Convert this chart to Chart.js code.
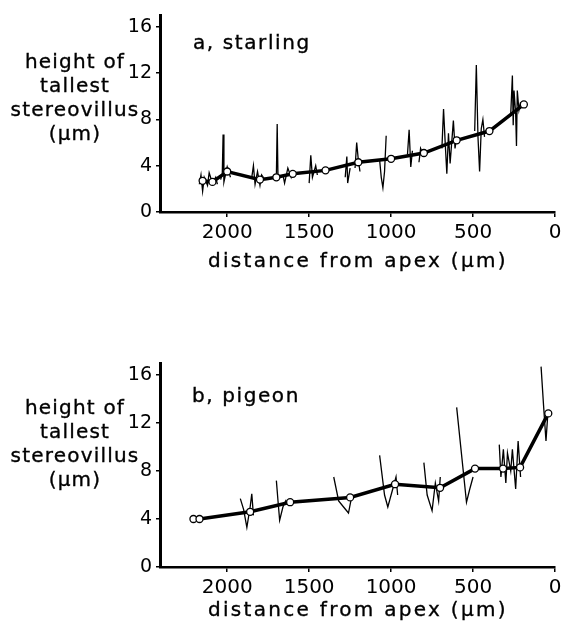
<!DOCTYPE html>
<html>
<head>
<meta charset="utf-8">
<script src="https://cdn.jsdelivr.net/npm/chart.js@4/dist/chart.umd.min.js"></script>
<style>
  html, body { margin: 0; padding: 0; background: #fff; }
  body { width: 563px; height: 628px; position: relative; overflow: hidden; }
  .box { position: absolute; left: 0; width: 563px; }
  .txt { position: absolute; font-family: "DejaVu Sans", sans-serif; font-size: 20px;
         line-height: 24px; color: #000; letter-spacing: 1.6px; white-space: nowrap;
         -webkit-text-stroke: 0.35px #000; }
  .ytitle { text-align: center; width: 150px; left: 0; letter-spacing: 1.2px; }
  .xtitle { letter-spacing: 2.3px; left: 208px; }
</style>
</head>
<body>
<div class="box" style="top:0; height:270px;"><canvas id="starling"></canvas></div>
<div class="box" style="top:328px; height:300px;"><canvas id="pigeon"></canvas></div>

<div class="txt ytitle" style="top:49px;">height of<br>tallest<br>stereovillus<br>(μm)</div>
<div class="txt" style="top:30px; left:193px;">a, starling</div>
<div class="txt xtitle" style="top:248px;">distance from apex (μm)</div>

<div class="txt ytitle" style="top:395px;">height of<br>tallest<br>stereovillus<br>(μm)</div>
<div class="txt" style="top:383px; left:192px;">b, pigeon</div>
<div class="txt xtitle" style="top:597px;">distance from apex (μm)</div>

<script>
// starling: mean height per position (open circles)
const starlingDist = [2150, 2090, 2000, 1800, 1700, 1600, 1400, 1200, 1000, 800, 600, 400, 190];
const starlingHeight = [2.7, 2.6, 3.5, 2.8, 3.0, 3.3, 3.6, 4.3, 4.6, 5.1, 6.2, 7.0, 9.3];
// starling: individual traces (null = gap)
const starlingTraceDist = [
  2170, 2160, 2150, 2140, 2120, 2110, 2090, 2070, 2060, 2050,
  2040, 2030, 2025, 2020, 2000, 1980, 1970,
  1850, 1840, 1830, 1815, 1800, 1790, 1770, 1760,
  1700, 1695, 1690, 1685,
  1660, 1650, 1630, 1610, 1600, 1590,
  1500, 1490, 1480, 1460, 1450, 1440,
  1280, 1270, 1265, 1250, 1240,
  1220, 1210, 1200, 1190, 1180,
  1070, 1060, 1050, 1040, 1030, 1020,
  900, 890, 880, 870, 860,
  830, 820, 800, 790,
  690, 680, 670, 660, 650, 640, 620, 610, 600, 590,
  490, 480, 470, 460, 450, 440, 430, 420,
  270, 260, 255, 250, 240, 235, 230, 220, 210
];
const starlingTraceHeight = [
  2.4, 3.2, 1.8, 3.0, 2.3, 3.4, 2.5, 3.0, 2.4, null,
  2.8, 3.3, 6.7, 2.6, 3.9, 3.0, null,
  3.0, 4.0, 2.4, 3.5, 2.3, 3.2, 2.8, null,
  3.0, 7.6, 2.9, null,
  3.2, 2.5, 3.8, 3.0, 3.6, null,
  2.5, 4.9, 3.0, 4.0, 3.2, null,
  3.0, 4.8, 2.5, 3.8, null,
  3.8, 6.0, 4.5, 3.5, null,
  4.5, 3.0, 2.1, 3.5, 6.6, null,
  5.0, 7.1, 3.9, 5.3, null,
  4.3, 5.5, 4.8, null,
  5.5, 8.9, 6.0, 3.3, 6.8, 4.2, 7.9, 5.5, 6.5, null,
  7.0, 12.7, 6.5, 3.5, 7.2, 8.0, 6.5, null,
  8.5, 11.8, 7.5, 10.5, 8.5, 5.7, 10.5, 8.8, 9.5
];

// pigeon: mean height per position (open circles)
const pigeonDist = [2206, 2169, 1860, 1616, 1250, 976, 701, 488, 317, 213, 41];
const pigeonHeight = [4.0, 4.0, 4.6, 5.4, 5.8, 6.9, 6.6, 8.2, 8.2, 8.3, 12.8];
// pigeon: individual traces (null = gap)
const pigeonTraceDist = [
  1920, 1900, 1880, 1860, 1850, 1840, 1830,
  1700, 1690, 1680, 1660, 1640, 1630,
  1350, 1320, 1290, 1260, 1240, 1230,
  1070, 1040, 1020, 990, 970, 960, 950,
  800, 780, 750, 730, 710, 700, 690,
  600, 540, 520, 500, 490,
  340, 330, 315, 300, 290, 270, 260, 240, 225, 210, 200,
  85, 70, 55, 45
];
const pigeonTraceHeight = [
  5.7, 4.8, 3.3, 5.0, 6.1, 4.3, null,
  7.2, 5.5, 3.9, 5.0, 5.6, null,
  7.5, 5.5, 5.0, 4.5, 5.9, null,
  9.3, 6.0, 5.0, 6.5, 7.5, 6.0, null,
  8.7, 6.0, 4.7, 7.0, 5.5, 7.5, null,
  13.3, 5.4, 6.5, 7.5, null,
  10.2, 7.5, 9.8, 7.0, 9.5, 8.0, 9.8, 6.5, 10.5, 7.5, null,
  16.7, 13.5, 10.5, 12.5
];

const yTicks = [0, 4, 8, 12, 16];
const xTicks = [0, 500, 1000, 1500, 2000];

function pts(xs, ys) {
  return xs.map((x, i) => ({ x: x, y: ys[i] }));
}

function makeChart(id, dist, height, tDist, tHeight, padTop, xAxisHeight) {
  const ctx = document.getElementById(id);
  return new Chart(ctx, {
    type: 'line',
    data: {
      datasets: [
        {
          data: pts(dist, height),
          borderColor: '#000',
          borderWidth: 3.5,
          pointRadius: 3.5,
          pointBorderWidth: 1.3,
          pointBackgroundColor: '#fff',
          pointBorderColor: '#000',
          tension: 0
        },
        {
          data: pts(tDist, tHeight),
          borderColor: '#000',
          borderWidth: 1.3,
          pointRadius: 0,
          tension: 0,
          spanGaps: false
        }
      ]
    },
    options: {
      responsive: true,
      maintainAspectRatio: false,
      animation: false,
      layout: { padding: { top: padTop, right: 8, left: 0, bottom: 0 } },
      plugins: { legend: { display: false }, tooltip: { enabled: false } },
      scales: {
        x: {
          type: 'linear',
          reverse: true,
          min: 0,
          max: 2410,
          afterBuildTicks: s => { s.ticks = xTicks.map(v => ({ value: v })); },
          afterFit: s => { s.height = xAxisHeight; },
          ticks: {
            color: '#000',
            font: { family: 'DejaVu Sans', size: 20 },
            padding: 4,
            maxRotation: 0,
            callback: v => String(v)
          },
          grid: { drawOnChartArea: false, color: '#000', lineWidth: 1.5, tickLength: 5 },
          border: { color: '#000', width: 2.5 }
        },
        y: {
          min: 0,
          max: 17,
          afterBuildTicks: s => { s.ticks = yTicks.map(v => ({ value: v })); },
          afterFit: s => { s.width = 160; },
          ticks: {
            color: '#000',
            font: { family: 'DejaVu Sans', size: 19 },
            padding: 4,
            callback: v => String(v)
          },
          grid: { drawOnChartArea: false, color: '#000', lineWidth: 1.5, tickLength: 4 },
          border: { color: '#000', width: 3 }
        }
      }
    }
  });
}

makeChart('starling', starlingDist, starlingHeight, starlingTraceDist, starlingTraceHeight, 8, 58);
makeChart('pigeon', pigeonDist, pigeonHeight, pigeonTraceDist, pigeonTraceHeight, 35, 61);
</script>
</body>
</html>
